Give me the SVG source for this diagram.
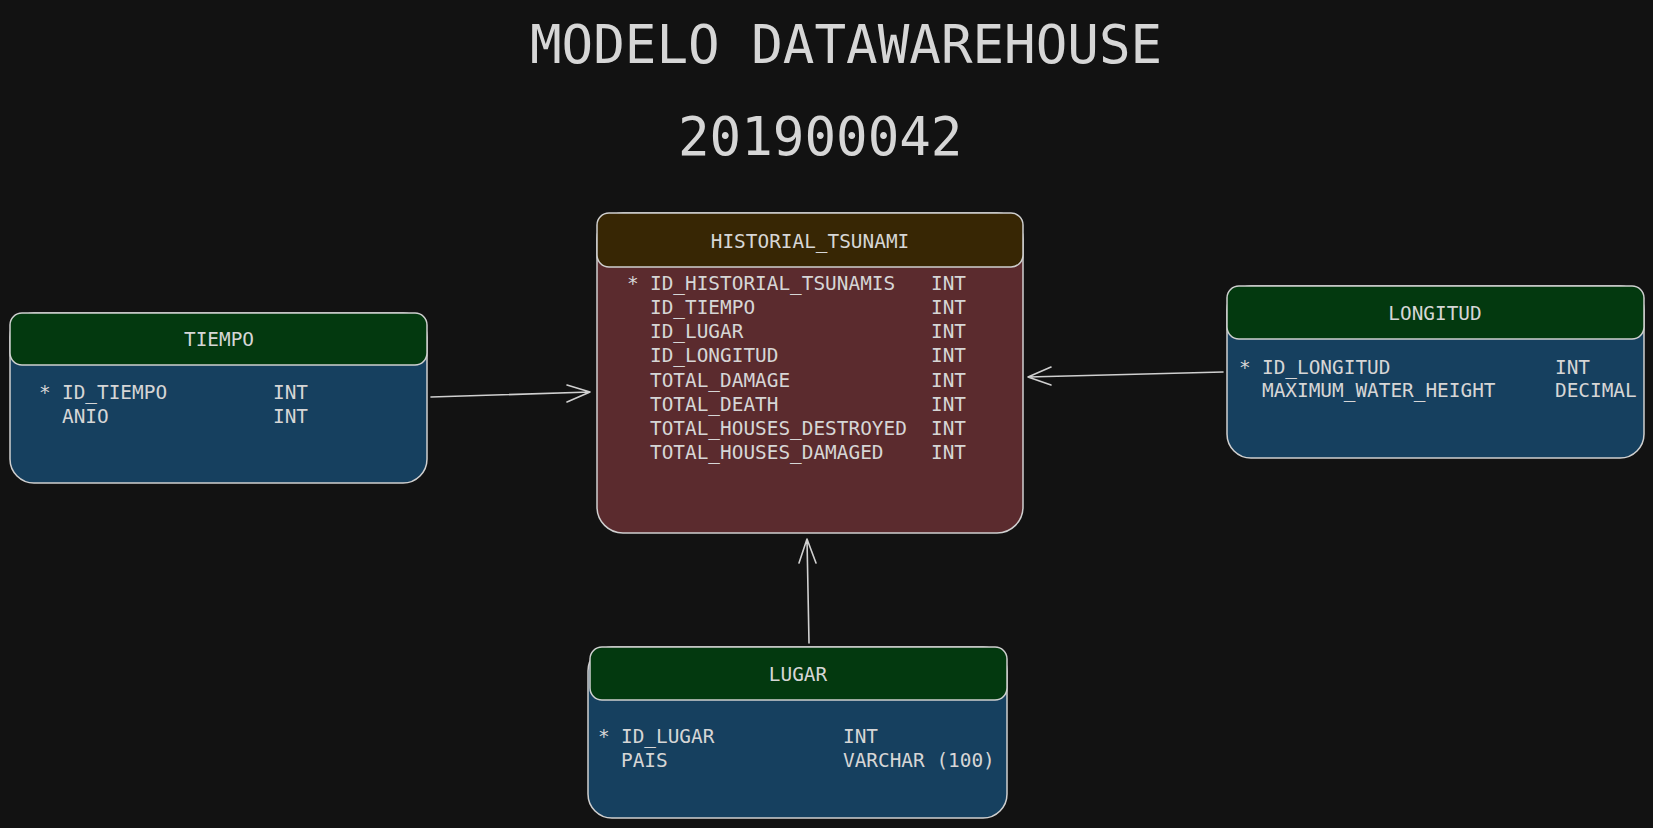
<svg xmlns="http://www.w3.org/2000/svg" width="1653" height="828" viewBox="0 0 1653 828">
<style>
.t{font-family:"DejaVu Sans Mono","Liberation Mono",monospace;fill:#d6d6d6;font-size:19.4px}
.title{font-family:"DejaVu Sans Mono","Liberation Mono",monospace;fill:#d6d6d6;font-size:52.5px}
.h{text-anchor:middle}
.box{stroke:#d0d0d0;stroke-width:1.5}
.dim{fill:#16405f}
.dimh{fill:#03390f}
.fact{fill:#5b2b2e}
.facth{fill:#372604}
.conn{stroke:#d0d0d0;stroke-width:1.6;fill:none;stroke-linecap:round;stroke-linejoin:round}
</style>
<rect width="1653" height="828" fill="#121212"/>
<g id="titles">
<text class="title" x="530" y="63">MODELO DATAWAREHOUSE</text>
<text class="title" x="678" y="155">201900042</text>
</g>
<g id="historial_tsunami">
<rect class="box fact" x="597" y="213" width="426" height="320" rx="26"/>
<rect class="box facth" x="597" y="213" width="426" height="54" rx="12"/>
<text class="t h" x="810" y="248">HISTORIAL_TSUNAMI</text>
<text class="t" x="627" y="290">*</text>
<text class="t" x="650" y="290">ID_HISTORIAL_TSUNAMIS</text>
<text class="t" x="650" y="314">ID_TIEMPO</text>
<text class="t" x="650" y="338">ID_LUGAR</text>
<text class="t" x="650" y="362">ID_LONGITUD</text>
<text class="t" x="650" y="387">TOTAL_DAMAGE</text>
<text class="t" x="650" y="411">TOTAL_DEATH</text>
<text class="t" x="650" y="435">TOTAL_HOUSES_DESTROYED</text>
<text class="t" x="650" y="459">TOTAL_HOUSES_DAMAGED</text>
<text class="t" x="931" y="290">INT</text>
<text class="t" x="931" y="314">INT</text>
<text class="t" x="931" y="338">INT</text>
<text class="t" x="931" y="362">INT</text>
<text class="t" x="931" y="387">INT</text>
<text class="t" x="931" y="411">INT</text>
<text class="t" x="931" y="435">INT</text>
<text class="t" x="931" y="459">INT</text>
</g>
<g id="tiempo">
<rect class="box dim" x="10" y="313" width="417" height="170" rx="24"/>
<rect class="box dimh" x="10" y="313" width="417" height="52" rx="12"/>
<text class="t h" x="219" y="346">TIEMPO</text>
<text class="t" x="39" y="399">*</text>
<text class="t" x="62" y="399">ID_TIEMPO</text>
<text class="t" x="62" y="423">ANIO</text>
<text class="t" x="273" y="399">INT</text>
<text class="t" x="273" y="423">INT</text>
</g>
<g id="longitud">
<rect class="box dim" x="1227" y="286" width="417" height="172" rx="24"/>
<rect class="box dimh" x="1227" y="286" width="417" height="53" rx="12"/>
<text class="t h" x="1435" y="320">LONGITUD</text>
<text class="t" x="1239" y="374">*</text>
<text class="t" x="1262" y="374">ID_LONGITUD</text>
<text class="t" x="1262" y="397">MAXIMUM_WATER_HEIGHT</text>
<text class="t" x="1555" y="374">INT</text>
<text class="t" x="1555" y="397">DECIMAL</text>
</g>
<g id="lugar">
<rect class="box dim" x="588" y="647" width="419" height="171" rx="24"/>
<rect class="box dimh" x="590" y="647" width="417" height="53" rx="12"/>
<text class="t h" x="798" y="681">LUGAR</text>
<text class="t" x="598" y="743">*</text>
<text class="t" x="621" y="743">ID_LUGAR</text>
<text class="t" x="621" y="767">PAIS</text>
<text class="t" x="843" y="743">INT</text>
<text class="t" x="843" y="767">VARCHAR (100)</text>
</g>
<g id="connectors">
<path class="conn" d="M431 397 L590 392 M567 385 L590 392 L567 402"/>
<path class="conn" d="M1223 372 L1028 377 M1051 367 L1028 377 L1051 385"/>
<path class="conn" d="M809 643 L807 539 M799 563 L807 539 L816 563"/>
</g>
</svg>
